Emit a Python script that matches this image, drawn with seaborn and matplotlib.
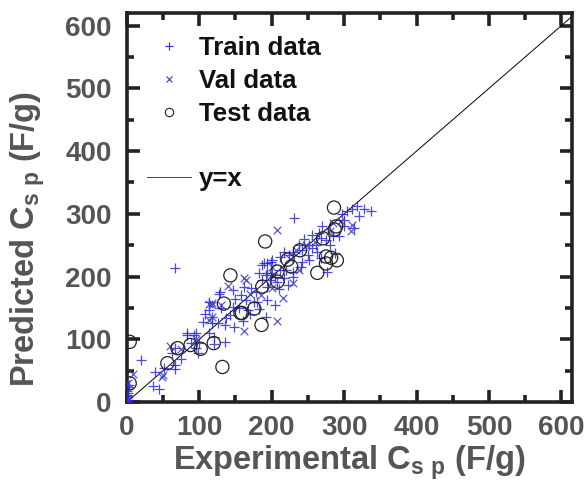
import matplotlib
matplotlib.use("Agg")
import matplotlib.pyplot as plt
from matplotlib.lines import Line2D
from matplotlib.ticker import MultipleLocator
import seaborn as sns
import pandas as pd

# ---- data ----
train_x = [0, 1, 0, 1, 0, 1, 0, 2, 1, 3,
           19, 39, 36, 45, 66, 66, 62, 83, 93, 96, 98, 66, 67,
           127, 114, 105, 117, 126, 95, 83, 113, 121, 121, 137, 136,
           189, 199, 183, 192, 205, 146, 128, 162, 172, 179, 165, 176, 194, 204, 114, 146, 155, 167, 183, 192, 142, 118,
           231, 304, 311, 321, 297, 300, 314, 293, 275, 266, 256, 268, 261, 252, 238, 242, 229, 224, 217, 211, 201, 193,
           242, 252, 268, 276, 229, 220, 211, 201, 193, 187, 186, 197, 208, 217, 222, 193,
           318, 337, 327, 150, 157, 130, 108, 136, 148, 160, 170, 180, 210, 230, 240, 250, 262, 280, 285, 270, 255, 245,
           288, 300, 100, 75, 88, 52]
train_y = [0, 3, 6, 9, 12, 15, 18, 21, 24, 27,
           67, 48, 26, 21, 59, 53, 78, 107, 107, 86, 78, 86, 213,
           173, 147, 127, 126, 126, 110, 110, 110, 104, 93, 134, 123,
           222, 224, 206, 203, 200, 179, 176, 184, 182, 176, 163, 160, 163, 155, 160, 152, 150, 147, 149, 136, 139, 136,
           293, 304, 307, 296, 299, 280, 278, 264, 259, 270, 267, 262, 251, 251, 251, 243, 240, 235, 240, 232, 227, 222,
           224, 227, 230, 208, 208, 211, 211, 206, 206, 219, 195, 195, 192, 198, 187, 184,
           312, 304, 307, 165, 170, 150, 140, 96, 120, 130, 140, 160, 180, 200, 215, 235, 240, 250, 265, 280, 245, 260,
           238, 290, 95, 68, 95, 55]

val_x = [0, 2, 1, 8, 50, 59, 49, 117, 114, 117, 114, 118, 165, 185, 162, 162, 208, 208, 215,
         311, 296, 310, 248, 234, 238, 229, 201, 140, 130, 260, 280, 200, 225, 170, 285, 95, 75]
val_y = [2, 5, 30, 45, 43, 90, 40, 158, 157, 136, 131, 155, 195, 171, 197, 114, 130, 275, 166,
         283, 288, 272, 251, 243, 211, 190, 182, 185, 155, 255, 272, 215, 228, 172, 285, 100, 85]

test_x = [4, 4, 56, 70, 88, 102, 120, 132, 143, 134, 157, 286, 191, 289, 287, 271, 239, 222, 227,
          275, 282, 290, 275, 263, 208, 208, 187, 176, 159, 186]
test_y = [30, 96, 62, 86, 91, 85, 94, 56, 202, 157, 142, 310, 256, 280, 275, 261, 242, 227, 216,
          232, 230, 226, 221, 206, 208, 192, 184, 149, 142, 123]

line_xy = [0, 620]

legend_labels = ["Train data", "Val data", "Test data", "y=x"]
x_label = r"Experimental C$_{s\ p}$ (F/g)"
y_label = r"Predicted C$_{s\ p}$ (F/g)"

# ---- style ----
sns.set_style("ticks")
plt.rcParams["font.family"] = ["Liberation Sans", "DejaVu Sans"]
plt.rcParams["font.weight"] = "bold"
plt.rcParams["mathtext.fontset"] = "custom"
plt.rcParams["mathtext.rm"] = "Liberation Sans:bold"
plt.rcParams["mathtext.it"] = "Liberation Sans:bold"
plt.rcParams["mathtext.bf"] = "Liberation Sans:bold"
plt.rcParams["mathtext.default"] = "rm"

grey = "#555555"
blue_tr = "#2a2ad6"
blue_va = "#3a3ac8"

fig = plt.figure(figsize=(5.87, 4.91), dpi=100)
ax = fig.add_axes([0.216, 0.181, 0.759, 0.7925])

df_tr = pd.DataFrame({"x": train_x, "y": train_y})
df_va = pd.DataFrame({"x": val_x, "y": val_y})
df_te = pd.DataFrame({"x": test_x, "y": test_y})

sns.lineplot(x=line_xy, y=line_xy, ax=ax, color="black", linewidth=0.7, zorder=1)
sns.scatterplot(data=df_tr, x="x", y="y", ax=ax, marker="+", s=55, color=blue_tr,
                linewidth=0.9, alpha=0.85, zorder=3)
sns.scatterplot(data=df_va, x="x", y="y", ax=ax, marker="x", s=30, color=blue_va,
                linewidth=0.9, alpha=0.85, zorder=3)
ax.scatter(df_te["x"], df_te["y"], marker="o", s=90, facecolors="none",
           edgecolors="#222222", linewidths=0.9, zorder=4)

ax.set_xlim(0, 615)
ax.set_ylim(0, 620)
ax.xaxis.set_major_locator(MultipleLocator(100))
ax.yaxis.set_major_locator(MultipleLocator(100))
ax.xaxis.set_minor_locator(MultipleLocator(50))
ax.yaxis.set_minor_locator(MultipleLocator(50))

for sp in ax.spines.values():
    sp.set_visible(True)
    sp.set_linewidth(2.6)
    sp.set_color("#222222")

ax.tick_params(which="both", direction="in", top=True, right=True, color="#222222")
ax.tick_params(which="major", length=9, width=2.6, labelsize=20, labelcolor=grey)
ax.tick_params(axis="y", which="major", pad=11)
ax.tick_params(axis="x", which="major", pad=9)
ax.tick_params(which="minor", length=5, width=2.6)
for lab in ax.get_xticklabels() + ax.get_yticklabels():
    lab.set_fontweight("bold")

ax.set_xlabel(x_label, fontsize=23.5, color=grey, fontweight="bold", labelpad=2)
ax.set_ylabel(y_label, fontsize=23.5, color=grey, fontweight="bold")
ax.yaxis.set_label_coords(-0.18, 0.42)

handles = [
    Line2D([], [], linestyle="none", marker="+", color=blue_tr, markersize=6, markeredgewidth=0.8),
    Line2D([], [], linestyle="none", marker="x", color=blue_va, markersize=4.5, markeredgewidth=0.8),
    Line2D([], [], linestyle="none", marker="o", markerfacecolor="none", markeredgecolor="#222222",
           markersize=6, markeredgewidth=0.8),
    Line2D([], [], linestyle="none", marker=None),
    Line2D([], [], color="#444444", linewidth=0.7),
]
labels = legend_labels[:3] + [" "] + legend_labels[3:]
leg = ax.legend(handles, labels, loc="upper left", frameon=False, fontsize=18.5,
                handlelength=1.7, handletextpad=0.3, labelspacing=0.34,
                borderaxespad=0.4, bbox_to_anchor=(0.0, 0.993))
for t in leg.get_texts():
    t.set_fontweight("bold")
    t.set_color("#111111")

fig.savefig("out.png", dpi=100)
